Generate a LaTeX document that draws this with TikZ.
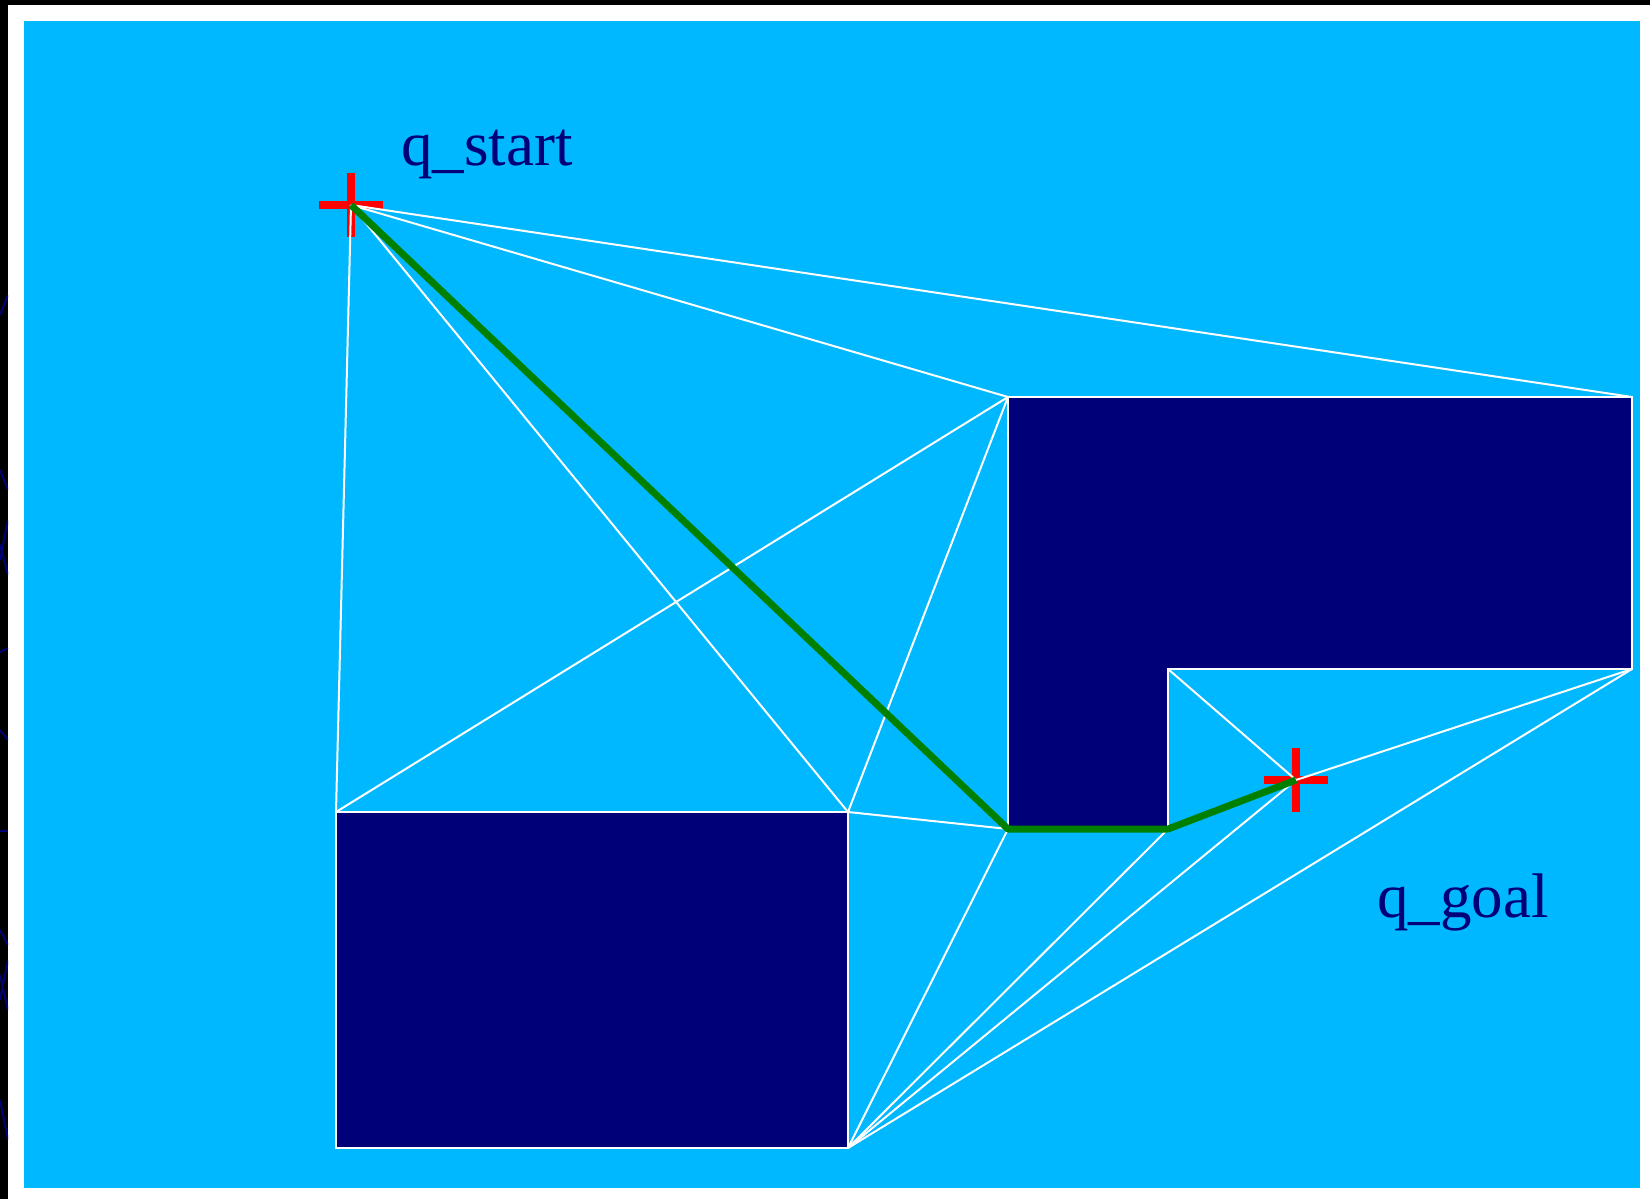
\documentclass[tikz,border=0pt]{standalone}
\usepackage{fontspec}
\setmainfont{Liberation Serif}
\definecolor{bgblue}{RGB}{0,184,255}
\definecolor{obsnavy}{RGB}{0,0,120}
\definecolor{pathgreen}{RGB}{0,128,0}
\begin{document}
\begin{tikzpicture}[x=1pt,y=-1pt,
  edge/.style={white,line width=2pt},
  obstacle/.style={fill=obsnavy,draw=white,line width=2pt},
  crossmark/.style={red,line width=8pt},
  route/.style={pathgreen,line width=7pt,line join=round},
  lbl/.style={text=obsnavy,inner sep=0pt,anchor=base west,font=\fontsize{63}{70}\selectfont},
  artifact/.style={obsnavy,line width=2pt}]
\useasboundingbox (0,0) rectangle (1650,1199);
\fill[white] (0,0) rectangle (1650,1199);
\fill[black] (0,0) rectangle (1650,5);
\fill[black] (0,0) rectangle (8,1199);
\begin{scope}
\clip (0,5) rectangle (8,1199);
\draw[artifact] (0,315) -- (8,295);
\draw[artifact] (0,470) -- (8,490);
\draw[artifact] (0,560) -- (8,520);
\draw[artifact] (0,545) -- (8,575);
\draw[artifact] (0,652) -- (8,648);
\draw[artifact] (0,730) -- (8,740);
\draw[artifact] (0,831) -- (8,831);
\draw[artifact] (0,930) -- (8,945);
\draw[artifact] (0,1000) -- (8,960);
\draw[artifact] (0,975) -- (8,1010);
\draw[artifact] (0,1100) -- (8,1140);
\end{scope}
\fill[bgblue] (24,21) rectangle (1640,1188);

% vertices
\coordinate (S) at (351,205);
\coordinate (G) at (1296,780);
\coordinate (TL) at (1008,397);
\coordinate (TR) at (1632,397);
\coordinate (IR) at (1632,669);
\coordinate (IC) at (1168,669);
\coordinate (BR) at (1168,829);
\coordinate (BL) at (1008,829);
\coordinate (RTL) at (336,812);
\coordinate (RTR) at (848,812);
\coordinate (RBR) at (848,1148);
\coordinate (RBL) at (336,1148);

% obstacles
\draw[obstacle] (TL) -- (TR) -- (IR) -- (IC) -- (BR) -- (BL) -- cycle;
\draw[obstacle] (RTL) -- (RTR) -- (RBR) -- (RBL) -- cycle;

% crosses
\draw[crossmark] ([xshift=-32pt]S) -- ([xshift=32pt]S);
\draw[crossmark] ([yshift=-32pt]S) -- ([yshift=32pt]S);
\draw[crossmark] ([xshift=-32pt]G) -- ([xshift=32pt]G);
\draw[crossmark] ([yshift=-32pt]G) -- ([yshift=32pt]G);

% visibility graph
\draw[edge] (S) -- (TR);
\draw[edge] (S) -- (TL);
\draw[edge] (S) -- (RTR);
\draw[edge] (S) -- (RTL);
\draw[edge] (RTL) -- (TL);
\draw[edge] (RTR) -- (TL);
\draw[edge] (RTR) -- (BL);
\draw[edge] (RBR) -- (BL);
\draw[edge] (RBR) -- (BR);
\draw[edge] (RBR) -- (G);
\draw[edge] (RBR) -- (IR);
\draw[edge] (IC) -- (G);
\draw[edge] (G) -- (IR);

% shortest path
\draw[route] (S) -- (BL) -- (BR) -- (G);

% labels
\node[lbl] (ls) at (401,165) {q\_start};
\node[lbl] (lg) at (1377,917) {q\_goal};
\end{tikzpicture}
\end{document}
